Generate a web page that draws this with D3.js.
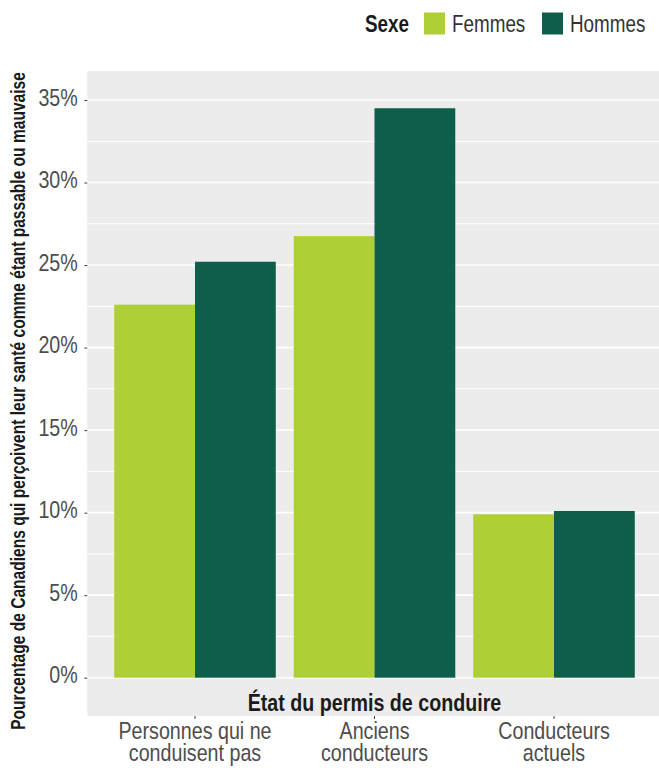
<!DOCTYPE html>
<html><head><meta charset="utf-8">
<script src="https://cdn.jsdelivr.net/npm/d3@7"></script>
<style>
html,body{margin:0;padding:0;background:#fff;}
svg{display:block;}
text{font-family:"Liberation Sans",Arial,sans-serif;}
</style></head>
<body>
<svg id="chart" width="659" height="768"></svg>
<script>
const categories = [["Personnes qui ne","conduisent pas"],["Anciens","conducteurs"],["Conducteurs","actuels"]];
const categoryKeys = ["Personnes qui ne conduisent pas","Anciens conducteurs","Conducteurs actuels"];
const sexes = ["Femmes","Hommes"];
const femmes = [22.6, 26.75, 9.9];
const hommes = [25.2, 34.5, 10.1];
const yTicks = [0,5,10,15,20,25,30,35];
const yMinor = [2.5,7.5,12.5,17.5,22.5,27.5,32.5];
const colors = {Femmes:"#afcf36", Hommes:"#0d5e4a"};
const SX = 0.82; // horizontal condensing to mimic a narrow font

const svg = d3.select("#chart");
const panel = {left:87.3, right:661.7, top:71, bottom:716};

const x = d3.scaleBand().domain(categoryKeys).range([panel.left, panel.right]).paddingInner(0.1).paddingOuter(0.15);
const xs = d3.scaleBand().domain(sexes).range([0, x.bandwidth()]);
const y = d3.scaleLinear().domain([0,35]).range([677.7,100]);

svg.append("rect").attr("x",panel.left).attr("y",panel.top)
  .attr("width",panel.right-panel.left).attr("height",panel.bottom-panel.top).attr("fill","#ebeceb");

svg.append("g").selectAll("line").data(yMinor).join("line")
  .attr("x1",panel.left).attr("x2",panel.right).attr("y1",d=>y(d)).attr("y2",d=>y(d))
  .attr("stroke","#fff").attr("stroke-width",1);
svg.append("g").selectAll("line").data(yTicks).join("line")
  .attr("x1",panel.left).attr("x2",panel.right).attr("y1",d=>y(d)).attr("y2",d=>y(d))
  .attr("stroke","#fff").attr("stroke-width",1.6);

const data = [];
categoryKeys.forEach((c,i)=>{
  data.push({cat:c, sex:"Femmes", v:femmes[i]});
  data.push({cat:c, sex:"Hommes", v:hommes[i]});
});
svg.append("g").selectAll("rect").data(data).join("rect")
  .attr("x",d=>x(d.cat)+xs(d.sex)).attr("width",xs.bandwidth())
  .attr("y",d=>y(d.v)).attr("height",d=>y(0)-y(d.v))
  .attr("fill",d=>colors[d.sex]);

// y axis
const yAxis = svg.append("g").attr("transform",`translate(${panel.left},0)`)
  .call(d3.axisLeft(y).tickValues(yTicks).tickSize(3).tickPadding(6).tickFormat(d=>d+"%"));
yAxis.select(".domain").remove();
yAxis.selectAll(".tick line").attr("stroke","#444").attr("stroke-width",1);
yAxis.selectAll(".tick text").attr("font-size",24).attr("fill","#4d4d4d")
  .attr("font-family","Liberation Sans, Arial, sans-serif")
  .attr("x",-9.5/SX).attr("dy","0.22em").attr("transform",`scale(${SX},1)`);

// x axis
const xAxis = svg.append("g").attr("transform",`translate(0,${panel.bottom})`)
  .call(d3.axisBottom(x).tickSize(3).tickFormat(""));
xAxis.select(".domain").remove();
xAxis.selectAll(".tick line").attr("stroke","#444");
xAxis.selectAll(".tick").each(function(d,i){
  const t = d3.select(this).append("text").attr("text-anchor","middle")
    .attr("font-size",24).attr("fill","#4d4d4d").attr("transform",`scale(${SX},1)`);
  categories[i].forEach((ln,j)=>{
    t.append("tspan").attr("x",0).attr("y",23+j*22.5).text(ln);
  });
});

// x title
svg.append("text").attr("transform",`translate(${(panel.left+panel.right)/2},711) scale(${SX},1)`)
  .attr("text-anchor","middle").attr("font-weight","bold").attr("font-size",24)
  .attr("fill","#1a1a1a").text("État du permis de conduire");

// y title
const yt = svg.append("text")
  .attr("text-anchor","middle").attr("font-weight","bold").attr("font-size",20)
  .attr("fill","#1a1a1a")
  .text("Pourcentage de Canadiens qui perçoivent leur santé comme étant passable ou mauvaise");
const ytLen = yt.node().getComputedTextLength();
yt.attr("transform",`translate(25,401) rotate(-90) scale(${658/ytLen},1)`);

// legend
const lg = svg.append("g");
lg.append("text").attr("transform",`translate(365,32) scale(${SX},1)`).attr("font-weight","bold").attr("font-size",23)
  .attr("fill","#1a1a1a").text("Sexe");
const legendX = [424, 542];
sexes.forEach((s,i)=>{
  lg.append("rect").attr("x",legendX[i]).attr("y",12.5).attr("width",21).attr("height",22).attr("fill",colors[s]);
  lg.append("text").attr("transform",`translate(${legendX[i]+28},32) scale(${SX},1)`)
    .attr("font-size",23).attr("fill","#333").text(s);
});
</script>
</body></html>
